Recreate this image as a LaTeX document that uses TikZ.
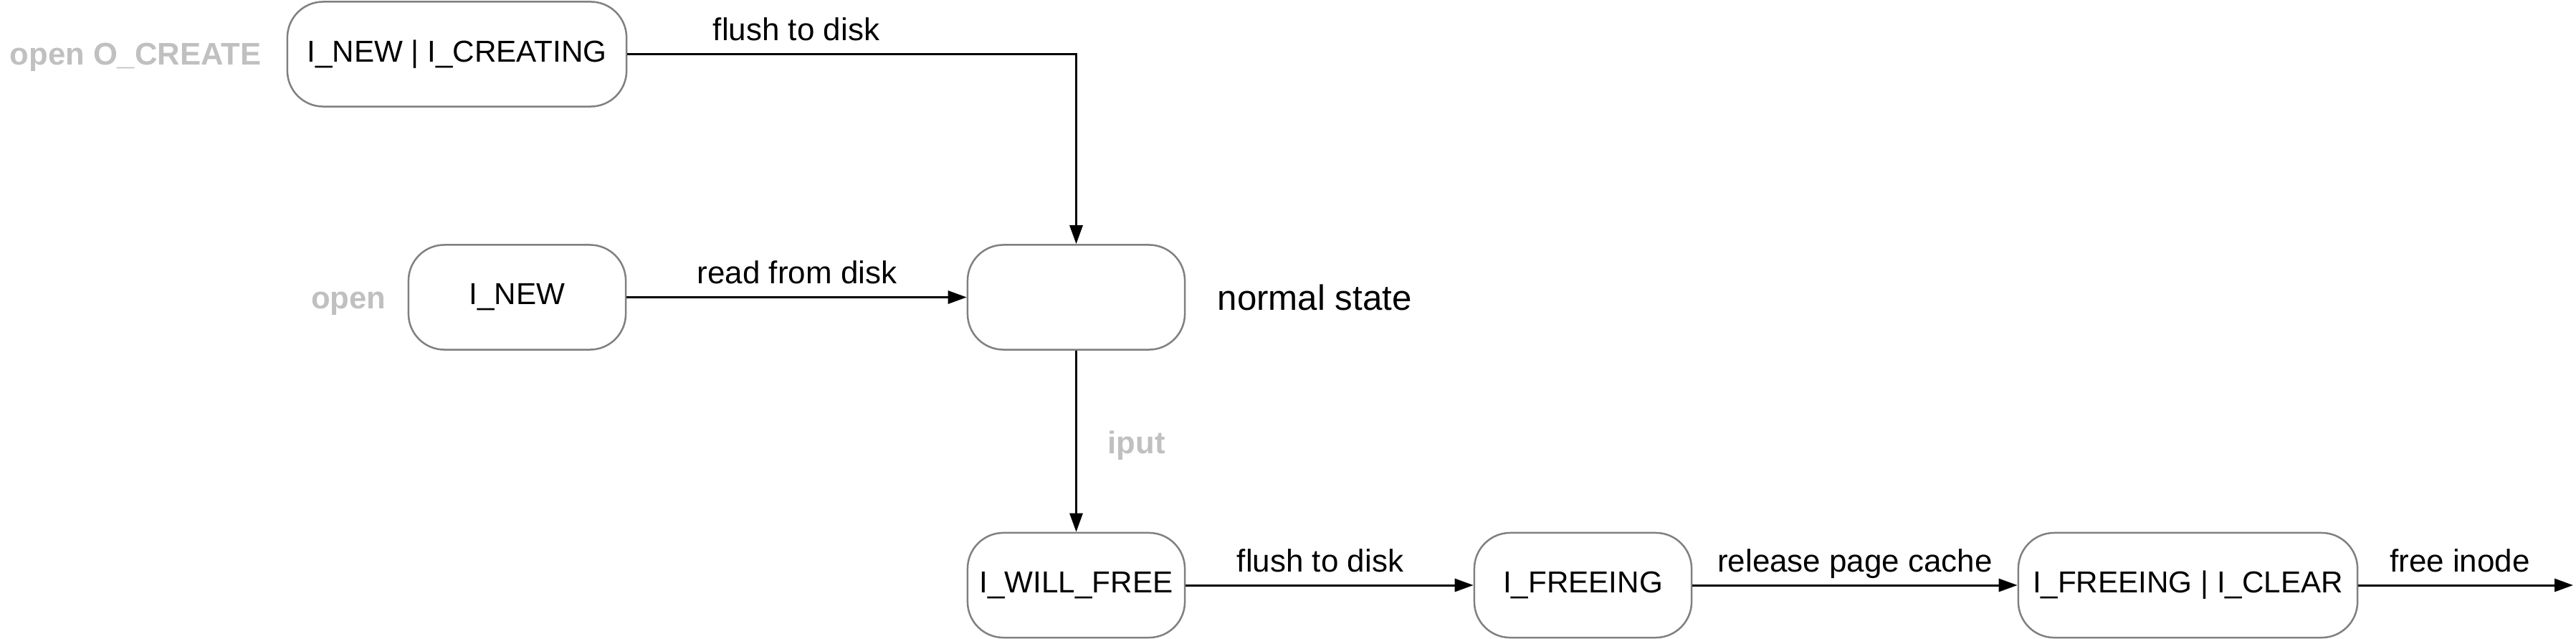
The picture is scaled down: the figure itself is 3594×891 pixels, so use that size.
\documentclass[tikz,border=0pt]{standalone}
\usepackage{fontspec}
\setmainfont{Liberation Sans}
\usetikzlibrary{arrows.meta}
\definecolor{boxline}{RGB}{128,128,128}
\definecolor{lightlabel}{RGB}{192,192,192}
\tikzset{
  statebox/.style={draw=boxline, line width=0.025cm, rounded corners=0.5cm, fill=white,
    minimum height=1.46cm, inner sep=0pt, font=\fontsize{12}{14}\selectfont},
  smallbox/.style={statebox, minimum width=3.03cm},
  widebox/.style={statebox, minimum width=4.73cm},
  conn/.style={line width=0.03cm, -{Triangle[length=0.26cm,width=0.18cm]}},
  edgelabel/.style={font=\fontsize{12.5}{14}\selectfont, anchor=base, inner sep=0pt},
  graylabel/.style={font=\bfseries\fontsize{12.4}{14}\selectfont, text=lightlabel, inner sep=0pt}
}
\begin{document}
\begin{tikzpicture}[x=0.01cm, y=-0.01cm]
\useasboundingbox (0,0) rectangle (3594,891);
% states
\node[widebox] (create) at (637.5,75.5) {I\_NEW | I\_CREATING};
\node[smallbox] (inew) at (721.5,414.5) {I\_NEW};
\node[smallbox] (normal) at (1501.5,414.5) {};
\node[smallbox] (willfree) at (1501.5,816) {I\_WILL\_FREE};
\node[smallbox] (freeing) at (2208.5,816) {I\_FREEING};
\node[widebox] (clear) at (3052.5,816) {I\_FREEING | I\_CLEAR};
\coordinate (gone) at (3590,816);
% side notes
\node[graylabel, anchor=base east] (ocreate) at (365,91) {open O\_CREATE};
\node[graylabel, anchor=base east] (open) at (539,430) {open};
\node[font=\fontsize{14}{16}\selectfont, anchor=base west, inner sep=0pt] (normtxt) at (1698,432) {normal state};
% connectors
\draw[conn] (create.east) -| (normal.north);
\node[edgelabel] (l1) at (1111,57) {flush to disk};
\draw[conn] (inew.east) -- (normal.west);
\node[edgelabel] (l2) at (1112,395) {read from disk};
\draw[conn] (normal.south) -- (willfree.north);
\node[graylabel, anchor=base west] (iput) at (1545,632) {iput};
\draw[conn] (willfree.east) -- (freeing.west);
\node[edgelabel] (l3) at (1842,797) {flush to disk};
\draw[conn] (freeing.east) -- (clear.west);
\node[edgelabel] (l4) at (2588,797) {release page cache};
\draw[conn] (clear.east) -- (gone);
\node[edgelabel] (l5) at (3432,797) {free inode};
\end{tikzpicture}
\end{document}
